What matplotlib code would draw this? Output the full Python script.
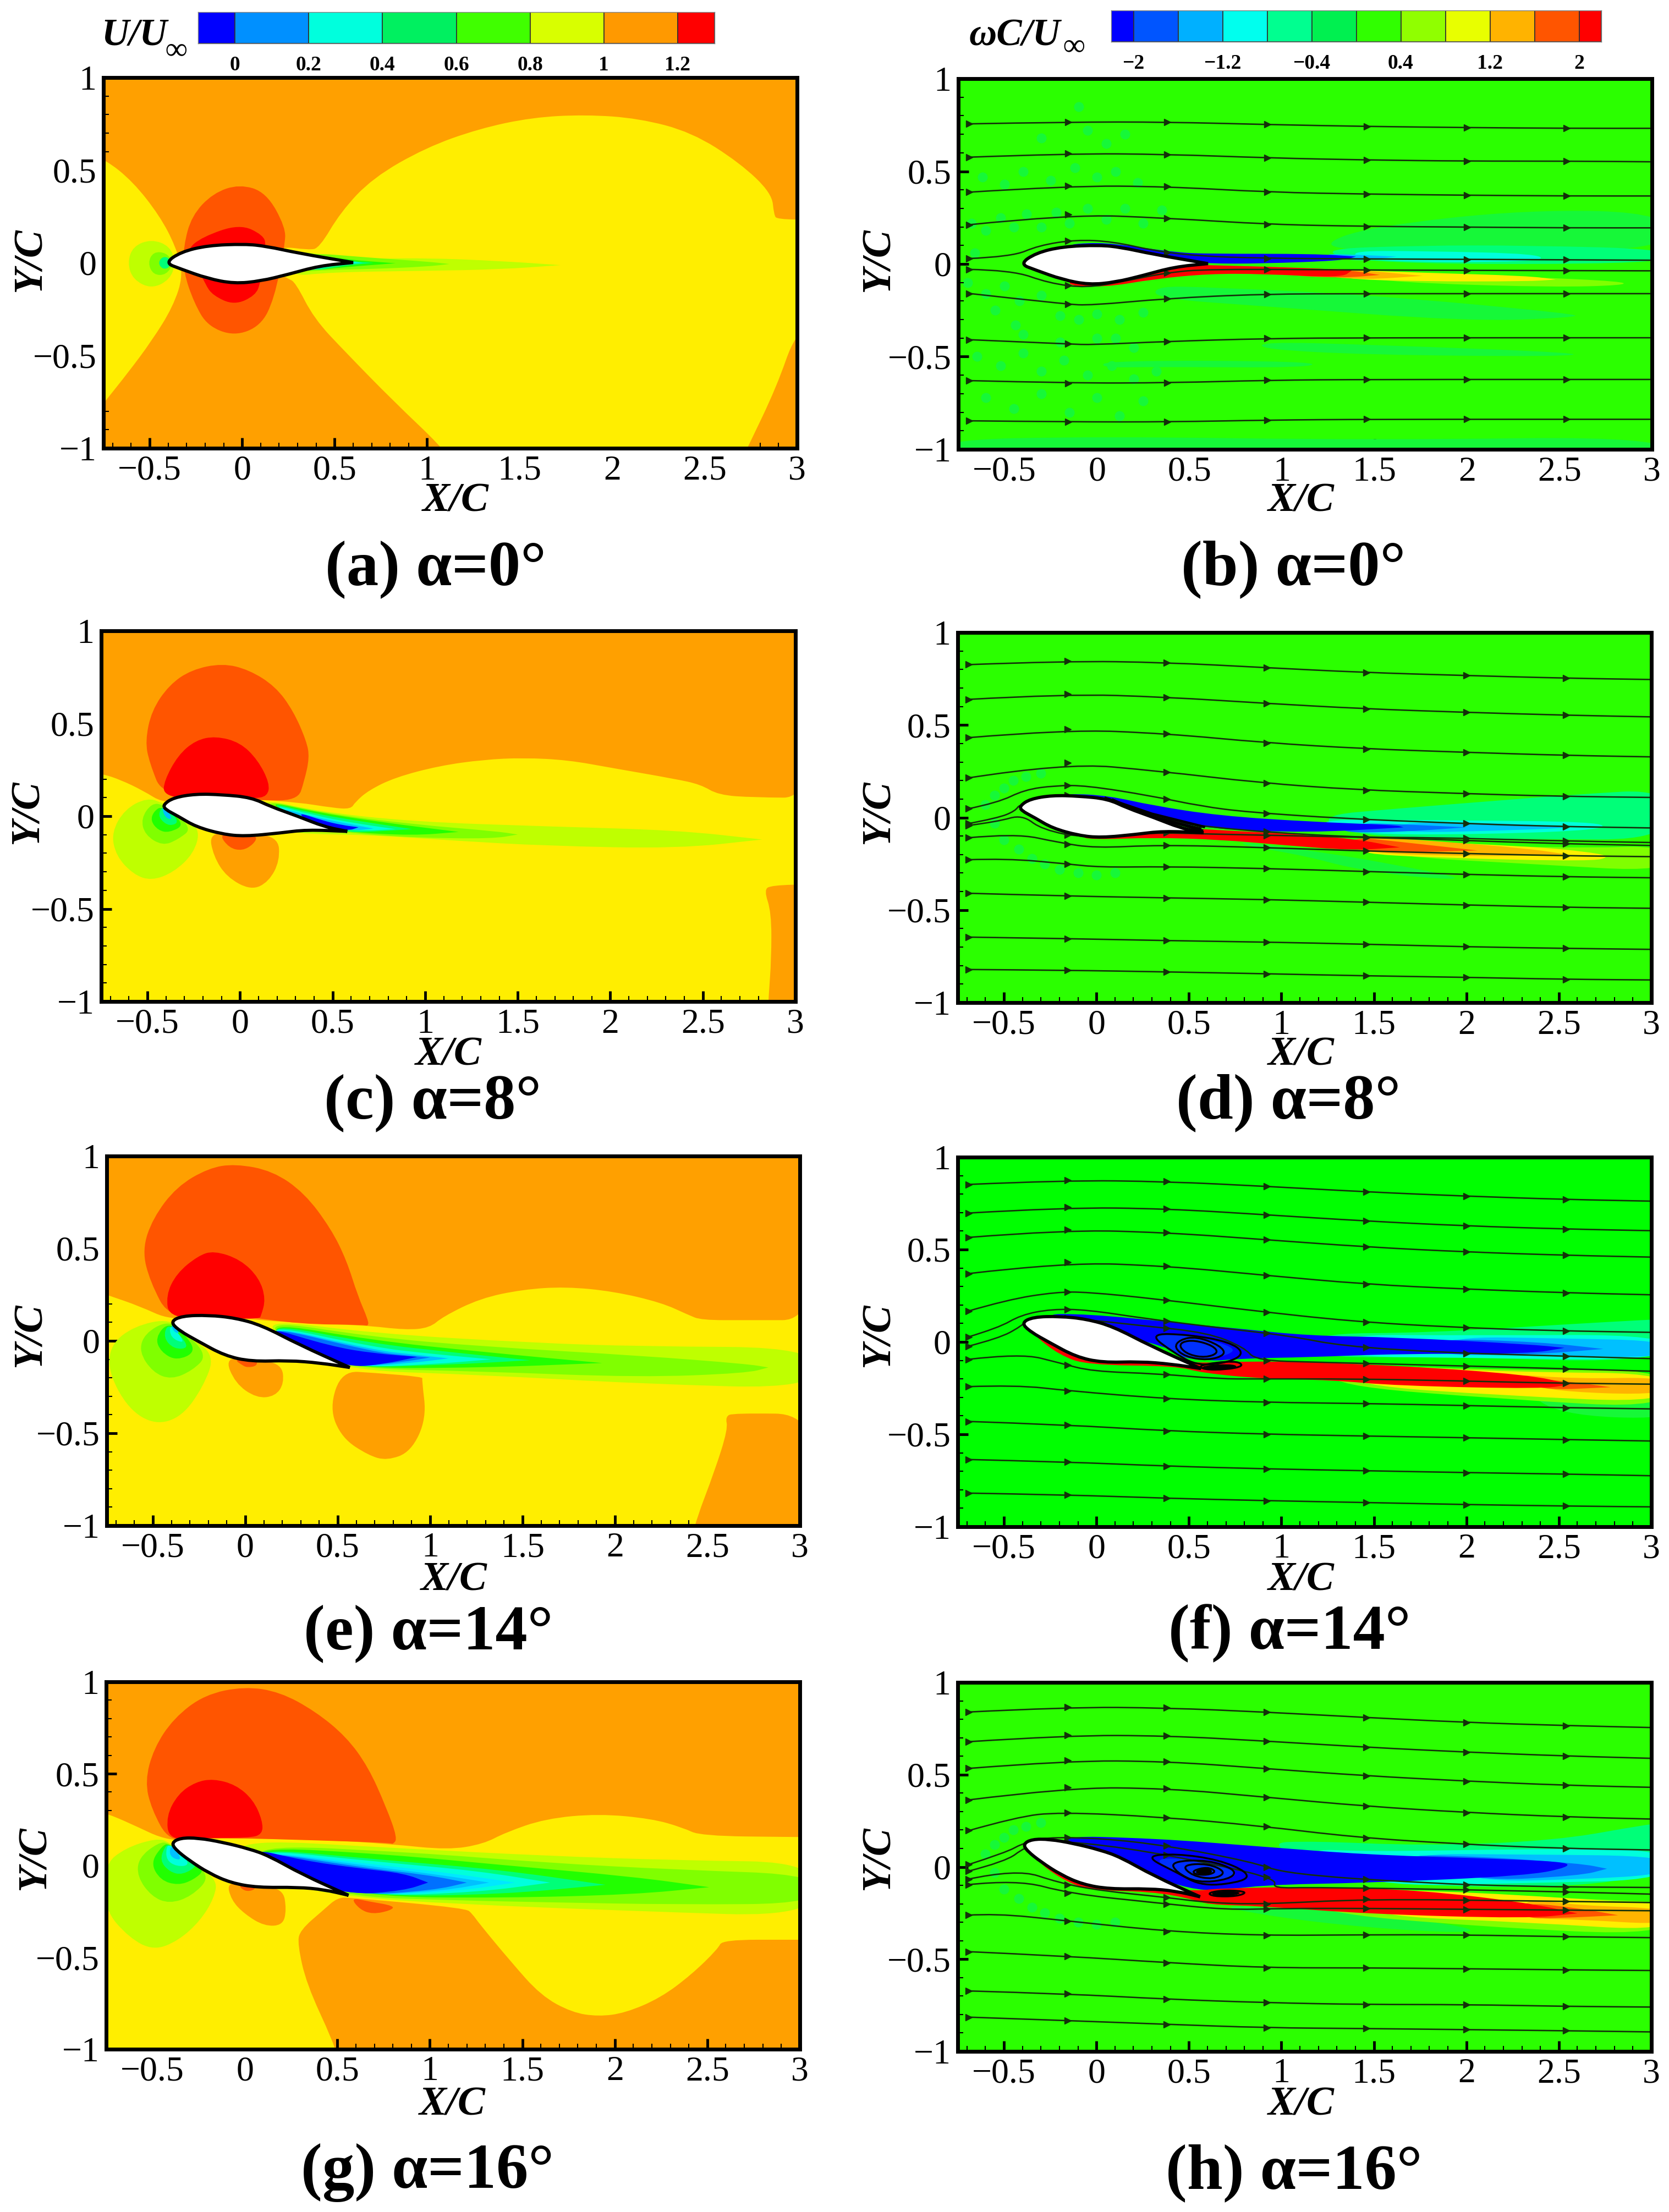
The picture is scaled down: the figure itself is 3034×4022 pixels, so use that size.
#翼まわりの流速と渦度のコンター図 (8 panels)
import numpy as np
import matplotlib
matplotlib.use('Agg')
import matplotlib.pyplot as plt
from matplotlib.path import Path
from matplotlib.patches import PathPatch

plt.rcParams['font.family'] = ['Liberation Serif', 'DejaVu Serif', 'DejaVu Sans']

W, H = 3034, 4022

# colours of the contour levels
BL, B2, B3, CY, TL, GR, LG, YG = '#0000ff', '#0070ff', '#00c0ff', '#00ffdc', '#00ff78', '#22ff00', '#80ff00', '#bfff00'
YE, OR, DO, RD = '#ffee00', '#ffa000', '#ff5500', '#ff0000'
AM, LB, BG, BGF = '#ffb400', '#16f838', '#2bff00', '#00ff00'

u_levels = [-0.1, 0, 0.2, 0.4, 0.6, 0.8, 1, 1.2, 1.3]
u_colors = ['#0000ff', '#0090ff', '#00ffdd', '#00f060', '#40ff00', '#d8ff00', '#ff9900', '#ff0000']
u_ticks = [0, 0.2, 0.4, 0.6, 0.8, 1, 1.2]
u_ticklabels = ['0', '0.2', '0.4', '0.6', '0.8', '1', '1.2']
w_levels = [-2.2, -2, -1.6, -1.2, -0.8, -0.4, 0, 0.4, 0.8, 1.2, 1.6, 2, 2.2]
w_colors = ['#0000ff', '#0055ff', '#00b0ff', '#00ffee', '#00ff90', '#00f050', '#30ff00', '#90ff00', '#e8ff00', '#ffb300', '#ff5500', '#ff0000']
w_ticks = [-2, -1.2, -0.4, 0.4, 1.2, 2]
w_ticklabels = ['\u22122', '\u22121.2', '\u22120.4', '0.4', '1.2', '2']

x_ticks = [-0.5, 0, 0.5, 1, 1.5, 2, 2.5, 3]
x_labels = ['\u22120.5', '0', '0.5', '1', '1.5', '2', '2.5', '3']
y_ticks = [-1, -0.5, 0, 0.5, 1]
y_labels = ['\u22121', '\u22120.5', '0', '0.5', '1']

# airfoil outlines, one for each angle
foil_0 = [(-.417, 0), (-.331, .059), (-.187, .094), (.014, .102), (.13, .09), (.302, .053), (.6, .002), (.6, .002), (.417, -.016), (.245, -.063), (.1, -.098), (-.043, -.112), (-.187, -.084), (-.331, -.033)]
foil_8 = [(-.414, .063), (-.359, .1), (-.239, .12), (-.096, .116), (.06, .101), (.167, .051), (.311, 0), (.455, -.057), (.579, -.082), (.579, -.082), (.359, -.073), (.215, -.091), (.024, -.109), (-.096, -.097), (-.239, -.057), (-.335, 0), (-.407, .038)]
foil_14 = [(-.406, .103), (-.343, .135), (-.199, .139), (-.055, .124), (.089, .084), (.291, -.021), (.565, -.144), (.565, -.144), (.406, -.12), (.233, -.106), (.032, -.112), (-.112, -.08), (-.256, -.002), (-.357, .055)]
foil_16 = [(-.397, .123), (-.349, .15), (-.254, .15), (-.122, .127), (.022, .091), (.129, .053), (.309, -.048), (.56, -.162), (.56, -.162), (.428, -.131), (.285, -.118), (.069, -.12), (-.074, -.095), (-.194, -.042), (-.301, .028), (-.373, .085)]

# (a) U/Uinf, alpha=0
a_ye_left = [(-.9, .62), (-.742, .56), (-.59, .438), (-.446, .254), (-.36, .09), (-.317, -.063), (-.374, -.237), (-.489, -.421), (-.619, -.595), (-.742, -.748), (-.9, -.95)]
a_ye_right = [(.417, .08), (.532, .274), (.705, .458), (.993, .622), (1.28, .724), (1.568, .785), (1.856, .8), (2.144, .78), (2.43, .705), (2.69, .54), (2.863, .376), (2.875, .26), (2.892, .235), (3.1, .233), (3.1, -.35), (2.99, -.38), (2.89, -.667), (2.734, -.994), (2.68, -1.1), (2.68, -1.1), (1.15, -1.1), (1.15, -1.1), (1.08, -.994), (.82, -.748), (.56, -.483), (.388, -.3), (.288, -.104), (.245, -.084), (.1, 0), (.2, .09), (.36, .07)]
a_do = [(-.317, .09), (-.273, .254), (-.158, .376), (-.014, .425), (.13, .38), (.235, .192), (.23, .09), (.173, -.196), (.1, -.34), (-.043, -.395), (-.187, -.34), (-.259, -.217), (-.317, -.05)]
a_rd = [(-.3, .07), (-.216, .14), (-.014, .21), (.115, .15), (.13, .09), (.1, -.104), (.072, -.176), (-.043, -.228), (-.158, -.176), (-.2, -.115), (-.25, 0)]
a_le_yg = [(-.62, 0), (-.59, .09), (-.49, .128), (-.39, .09), (-.36, 0), (-.39, -.09), (-.49, -.14), (-.59, -.09)]
a_le_lg = [(-.51, 0), (-.48, .06), (-.41, .055), (-.37, 0), (-.41, -.065), (-.48, -.065)]
a_le_tl = [(-.455, 0), (-.43, .035), (-.39, .025), (-.39, -.025), (-.43, -.035)]
a_w_yg = [(.2, .08), (.6, .02), (.993, .027), (1.4, .01), (1.72, -.012), (1.72, -.012), (1.4, -.035), (.993, -.043), (.475, -.05), (.25, -.075)]
a_w_lg = [(.3, .06), (.705, .027), (1.0, .007), (1.12, -.006), (1.12, -.006), (1.0, -.02), (.705, -.033), (.475, -.037), (.3, -.05)]
a_w_gr = [(.35, .05), (.561, .018), (.83, -.002), (.83, -.002), (.561, -.022), (.35, -.045)]
a_w_tl = [(.35, .055), (.55, .012), (.71, 0), (.71, 0), (.55, -.015), (.35, -.05)]
a_w_cy = [(.3, .065), (.5, .02), (.65, 0), (.65, 0), (.5, -.012), (.3, -.055)]
a_fields = [(YE, a_ye_left), (YE, a_ye_right), (DO, a_do), (RD, a_rd), (YG, a_le_yg), (LG, a_le_lg), (TL, a_le_tl),
            (YG, a_w_yg), (LG, a_w_lg), (GR, a_w_gr), (TL, a_w_tl), (CY, a_w_cy)]

# (c) U/Uinf, alpha=8
c_or_top = [(-.9, .25), (-.742, .228), (-.646, .196), (-.526, .139), (-.414, .07), (-.3, .1), (.07, .09), (.311, .075), (.5, .045), (.598, .038), (.622, .076), (.694, .139), (.837, .209), (1.077, .272), (1.316, .305), (1.531, .315), (1.77, .303), (2.01, .26), (2.344, .202), (2.488, .171), (2.584, .114), (2.775, .101), (3.1, .099), (3.1, 1.1), (3.1, 1.1), (-.9, 1.1), (-.9, 1.1)]
c_or_low = [(2.83, -.398), (2.87, -.373), (3.1, -.367), (3.1, -1.1), (3.1, -1.1), (2.85, -1.1), (2.85, -1.1), (2.855, -.973), (2.87, -.77), (2.87, -.518)]
c_do = [(-.414, .1), (-.49, .29), (-.512, .405), (-.478, .569), (-.383, .708), (-.263, .79), (-.096, .825), (.048, .79), (.191, .7), (.287, .569), (.359, .405), (.375, .316), (.347, .19), (.311, .082), (.07, .088)]
c_rd = [(-.414, .114), (-.41, .19), (-.335, .329), (-.239, .41), (-.132, .432), (0, .398), (.096, .303), (.16, .177), (.148, .107), (.072, .095), (-.263, .088)]
c_low_or = [(-.167, -.088), (-.144, -.215), (-.072, -.329), (.06, -.4), (.155, -.354), (.215, -.24), (.205, -.107), (.0, -.09)]
c_low_do = [(-.115, -.095), (-.06, -.171), (.012, -.187), (.072, -.152), (.096, -.107), (0, -.09)]
c_le_yg = [(-.414, .07), (-.502, .1), (-.622, .038), (-.695, -.088), (-.67, -.215), (-.574, -.316), (-.478, -.348), (-.359, -.303), (-.251, -.202), (-.215, -.076), (-.3, 0)]
c_le_lg = [(-.414, .063), (-.478, .07), (-.535, -.013), (-.514, -.101), (-.419, -.16), (-.335, -.126), (-.255, -.063)]
c_le_gr = [(-.419, .057), (-.467, .025), (-.483, -.025), (-.443, -.076), (-.383, -.09), (-.295, -.044)]
c_le_tl = [(-.41, .06), (-.44, .02), (-.43, -.02), (-.38, -.055), (-.325, -.03)]
c_le_b3 = [(-.41, .06), (-.42, .03), (-.4, -.01), (-.365, -.02), (-.39, .03)]
c_w_yg = [(.096, .1), (.407, .027), (.933, -.03), (1.65, -.055), (2.368, -.076), (2.82, -.126), (2.82, -.126), (2.368, -.175), (1.65, -.16), (1.17, -.133), (.694, -.101), (.287, -.095), (.1, -.05)]
c_w_lg = [(.1, .095), (.455, .015), (.933, -.044), (1.388, -.082), (1.5, -.099), (1.5, -.099), (1.364, -.122), (.933, -.116), (.574, -.09), (.3, -.05)]
c_w_gr = [(.12, .085), (.407, .022), (.742, -.03), (1.18, -.085), (1.18, -.085), (.933, -.105), (.574, -.085), (.4, -.05)]
c_w_tl = [(.13, .08), (.4, .015), (.6, -.02), (.93, -.07), (.93, -.07), (.65, -.088), (.57, -.082), (.4, -.04)]
c_w_cy = [(.15, .07), (.4, .005), (.6, -.035), (.84, -.07), (.84, -.07), (.62, -.082), (.4, -.04)]
c_w_b3 = [(.2, .05), (.4, -.005), (.58, -.04), (.72, -.067), (.72, -.067), (.6, -.08), (.4, -.04)]
c_w_bl = [(.3, .025), (.45, -.025), (.55, -.048), (.64, -.06), (.64, -.06), (.58, -.08), (.4, -.05)]
c_fields = [(OR, c_or_top), (OR, c_or_low), (DO, c_do), (RD, c_rd), (OR, c_low_or), (DO, c_low_do),
            (YG, c_le_yg), (LG, c_le_lg), (GR, c_le_gr), (TL, c_le_tl), (B3, c_le_b3),
            (YG, c_w_yg), (LG, c_w_lg), (GR, c_w_gr), (TL, c_w_tl), (CY, c_w_cy), (B3, c_w_b3), (BL, c_w_bl)]

# (e) U/Uinf, alpha=14
e_or_top = [(-.9, .3), (-.738, .245), (-.573, .188), (-.406, .112), (-.2, .14), (.2, .1), (.637, .085), (.867, .059), (.997, .07), (1.069, .131), (1.271, .23), (1.501, .278), (1.732, .293), (1.991, .268), (2.251, .207), (2.395, .141), (2.467, .112), (2.712, .112), (3.1, .112), (3.1, 1.1), (3.1, 1.1), (-.9, 1.1), (-.9, 1.1)]
e_or_low = [(2.597, -.41), (2.64, -.391), (3.1, -.397), (3.1, -1.1), (3.1, -1.1), (2.41, -1.1), (2.41, -1.1), (2.438, -.97), (2.539, -.705), (2.611, -.477)]
e_do = [(-.406, .112), (-.516, .321), (-.558, .492), (-.501, .663), (-.372, .834), (-.199, .935), (-.055, .958), (.147, .92), (.32, .8), (.464, .606), (.548, .435), (.608, .245), (.665, .112), (.665, .08), (.637, .087), (.3, .09), (-.055, .14)]
e_rd = [(-.41, .12), (-.43, .245), (-.372, .365), (-.256, .46), (-.17, .488), (-.026, .44), (.075, .34), (.11, .226), (.085, .135), (.075, .12), (-.1, .12)]
e_low_or1 = [(-.112, -.087), (-.055, -.23), (.061, -.31), (.161, -.3), (.21, -.23), (.196, -.125), (.05, -.1)]
e_low_do1 = [(-.06, -.1), (-.02, -.13), (.01, -.145), (.065, -.135), (.06, -.1)]
e_low_or2 = [(.522, -.163), (.455, -.363), (.522, -.525), (.666, -.62), (.767, -.648), (.896, -.6), (.98, -.42), (.955, -.211), (.96, -.195), (.695, -.173)]
e_le_yg = [(-.406, .122), (-.602, .08), (-.73, -.021), (-.74, -.173), (-.631, -.37), (-.487, -.455), (-.343, -.41), (-.228, -.249), (-.165, -.078), (-.3, .02)]
e_le_lg = [(-.42, .11), (-.545, .04), (-.575, -.059), (-.501, -.17), (-.401, -.21), (-.285, -.16), (-.205, -.078), (-.33, .05)]
e_le_gr = [(-.42, .1), (-.487, .017), (-.458, -.059), (-.372, -.108), (-.265, -.059), (-.33, .04)]
e_le_tl = [(-.42, .095), (-.444, .017), (-.386, -.045), (-.305, -.04), (-.35, .03)]
e_le_cy = [(-.41, .09), (-.405, .017), (-.329, -.015), (-.36, .04)]
e_le_b3 = [(-.406, .097), (-.386, .046), (-.35, .04)]
e_w_yg = [(.06, .122), (.695, .04), (1.559, -.011), (2.135, -.03), (3.1, -.036), (3.1, -.26), (2.135, -.232), (1.271, -.184), (.565, -.16), (.3, -.05)]
e_w_lg = [(.08, .115), (.695, .02), (1.271, -.03), (2.135, -.08), (2.712, -.125), (2.83, -.144), (2.83, -.144), (2.712, -.175), (2.135, -.198), (1.271, -.165), (.565, -.15), (.3, -.05)]
e_w_gr = [(.09, .105), (.695, .002), (1.271, -.059), (1.93, -.12), (1.93, -.12), (1.271, -.146), (.565, -.148), (.3, -.05)]
e_w_tl = [(.09, .1), (.695, -.015), (1.1, -.06), (1.54, -.105), (1.54, -.105), (1.1, -.13), (.565, -.145), (.3, -.05)]
e_w_cy = [(.09, .095), (.695, -.035), (1.0, -.07), (1.33, -.1), (1.33, -.1), (1.0, -.128), (.565, -.145), (.3, -.05)]
e_w_b3 = [(.09, .09), (.695, -.05), (.92, -.075), (1.1, -.095), (1.1, -.095), (.9, -.12), (.565, -.144), (.3, -.05)]
e_w_b2 = [(.09, .088), (.695, -.06), (.88, -.08), (1.0, -.09), (1.0, -.09), (.85, -.115), (.565, -.144), (.3, -.05)]
e_w_bl = [(.089, .084), (.464, -.03), (.695, -.068), (.93, -.087), (.93, -.087), (.752, -.125), (.565, -.144), (.3, -.05)]
e_fields = [(OR, e_or_top), (OR, e_or_low), (DO, e_do), (RD, e_rd), (OR, e_low_or1), (DO, e_low_do1), (OR, e_low_or2),
            (YG, e_le_yg), (LG, e_le_lg), (GR, e_le_gr), (TL, e_le_tl), (CY, e_le_cy), (B3, e_le_b3),
            (YG, e_w_yg), (LG, e_w_lg), (GR, e_w_gr), (TL, e_w_tl), (CY, e_w_cy), (B3, e_w_b3), (B2, e_w_b2), (BL, e_w_bl)]

# (g) U/Uinf, alpha=16
g_ye = [(-.9, .33), (-.744, .282), (-.624, .231), (-.409, .129), (-.2, .15), (.428, .14), (.787, .117), (1.098, .085), (1.289, .117), (1.409, .18), (1.624, .255), (1.911, .282), (2.2, .255), (2.368, .206), (2.464, .161), (2.97, .155), (3.1, .155), (3.1, .155), (3.1, -.404), (3.1, -.404), (2.964, -.404), (2.581, -.404), (2.557, -.454), (2.414, -.594), (2.246, -.721), (2.055, -.803), (1.911, -.822), (1.768, -.8), (1.6, -.708), (1.433, -.518), (1.266, -.315), (1.23, -.264), (1.194, -.232), (.572, -.175), (.5, -.175), (.428, -.239), (.297, -.353), (.285, -.429), (.333, -.645), (.476, -.956), (.52, -1.1), (.52, -1.1), (-.9, -1.1), (-.9, -1.1)]
g_do = [(-.409, .129), (-.505, .307), (-.54, .459), (-.493, .637), (-.385, .802), (-.218, .93), (-.002, .975), (.189, .945), (.38, .84), (.548, .701), (.667, .536), (.763, .32), (.825, .148), (.8, .115), (.787, .123), (.428, .136), (-.242, .155)]
g_rd = [(-.41, .14), (-.425, .269), (-.361, .39), (-.266, .455), (-.17, .472), (-.05, .44), (.045, .358), (.095, .244), (.095, .17), (.022, .15), (-.242, .15)]
g_low_or = [(-.098, -.086), (-.074, -.188), (-.002, -.264), (.105, -.33), (.205, -.325), (.225, -.239), (.205, -.125), (.05, -.11)]
g_low_do = [(-.038, -.105), (-.002, -.14), (.045, -.136), (.06, -.115)]
g_low_do2 = [(.572, -.175), (.62, -.239), (.691, -.265), (.787, -.245), (.81, -.22), (.667, -.195)]
g_le_yg = [(-.41, .13), (-.481, .148), (-.648, .095), (-.76, .003), (-.76, -.239), (-.624, -.395), (-.493, -.462), (-.361, -.41), (-.242, -.302), (-.165, -.175), (-.15, -.074), (-.3, .03)]
g_le_lg = [(-.41, .125), (-.469, .125), (-.575, .041), (-.582, -.061), (-.505, -.168), (-.409, -.208), (-.289, -.168), (-.185, -.061), (-.3, .03)]
g_le_gr = [(-.41, .12), (-.445, .11), (-.51, .015), (-.457, -.08), (-.361, -.108), (-.278, -.078), (-.215, -.023), (-.3, .04)]
g_le_tl = [(-.41, .115), (-.433, .104), (-.46, .028), (-.409, -.034), (-.337, -.052), (-.25, .003), (-.3, .05)]
g_le_cy = [(-.405, .115), (-.425, .1), (-.425, .03), (-.37, -.005), (-.3, .0), (-.33, .06)]
g_le_b3 = [(-.4, .115), (-.41, .05), (-.345, .025), (-.36, .07)]
g_w_yg = [(-.17, .15), (.907, .09), (1.624, .053), (2.342, .028), (3.1, .018), (3.1, -.28), (2.103, -.248), (1.146, -.21), (.56, -.172), (.2, -.1)]
g_w_lg = [(.0, .115), (.907, .072), (1.624, .015), (2.342, -.023), (3.1, -.05), (3.1, -.207), (2.342, -.213), (1.624, -.2), (1.146, -.19), (.56, -.17), (.2, -.05)]
g_w_gr = [(.0, .105), (.787, .06), (1.385, .003), (2.103, -.061), (2.51, -.118), (2.51, -.118), (2.103, -.158), (1.385, -.177), (.667, -.17), (.2, -.05)]
g_w_tl = [(.0, .1), (.75, .03), (1.385, -.023), (1.95, -.105), (1.95, -.105), (1.385, -.158), (.667, -.168), (.2, -.05)]
g_w_cy = [(.0, .095), (.72, .02), (1.266, -.03), (1.65, -.093), (1.65, -.093), (1.266, -.145), (.667, -.168), (.2, -.05)]
g_w_b3 = [(.0, .09), (.7, .005), (1.1, -.04), (1.46, -.093), (1.46, -.093), (1.15, -.14), (.62, -.166), (.2, -.05)]
g_w_c2 = [(.0, .09), (.68, -.005), (1.05, -.05), (1.32, -.093), (1.32, -.093), (1.08, -.137), (.6, -.165), (.2, -.05)]
g_w_b2 = [(.0, .09), (.66, -.015), (.98, -.05), (1.2, -.093), (1.2, -.093), (1.02, -.135), (.58, -.165), (.2, -.05)]
g_w_bl = [(.022, .098), (.309, .028), (.62, -.016), (.859, -.042), (.99, -.093), (.99, -.093), (.859, -.137), (.56, -.16), (.2, -.05)]
g_fields = [(YE, g_ye), (DO, g_do), (RD, g_rd), (OR, g_low_or), (DO, g_low_do), (DO, g_low_do2),
            (YG, g_le_yg), (LG, g_le_lg), (GR, g_le_gr), (TL, g_le_tl), (CY, g_le_cy), (B3, g_le_b3),
            (YG, g_w_yg), (LG, g_w_lg), (GR, g_w_gr), (TL, g_w_tl), (CY, g_w_cy), ('#00e8ff', g_w_b3), (B3, g_w_c2), (B2, g_w_b2), (BL, g_w_bl)]

# (b) vorticity, alpha=0
b_lb1 = [(1.2, .1), (1.466, .2), (2.328, .295), (3.1, .275), (3.1, .06), (1.466, .07)]
b_lb2 = [(.316, -.12), (.603, -.125), (1.466, -.166), (2.586, -.268), (2.586, -.289), (2.0, -.31), (.891, -.227), (.316, -.186)]
b_lb3 = [(.891, -.42), (1.466, -.435), (2.64, -.48), (2.5, -.5), (1.466, -.49), (.891, -.46)]
b_lb4 = [(.05, -.52), (1.178, -.525), (1.15, -.56), (.316, -.555), (.02, -.56)]
b_lb5 = [(-.9, -.95), (.0, -.93), (1.5, -.95), (3.1, -.93), (3.1, -1.1), (3.1, -1.1), (-.9, -1.1), (-.9, -1.1)]
b_tl = [(1.178, .08), (1.753, .1), (2.328, .1), (3.1, .08), (3.1, .0), (1.466, .0)]
b_cy = [(1.351, .07), (1.753, .07), (2.4, .055), (2.4, .01), (1.466, .012)]
b_b3 = [(1.2, .055), (1.4, .05), (1.62, .04), (1.62, .04), (1.4, .012)]
b_bl = [(-.201, .1), (0, .118), (.201, .095), (.431, .062), (.603, .055), (1.178, .055), (1.4, .04), (1.4, .04), (1.322, .018), (.891, .002), (.603, .002), (.316, .02), (0, .05)]
b_rd = [(.603, -.006), (1.034, -.018), (1.38, -.033), (1.38, -.033), (1.322, -.074), (.891, -.053), (.603, -.053), (.316, -.08), (.029, -.128), (-.201, -.11), (0, -.05), (.3, 0)]
b_do = [(1.0, -.02), (1.34, -.03), (1.53, -.059), (1.53, -.059), (1.322, -.076), (1.0, -.06)]
b_am = [(1.2, -.02), (1.45, -.035), (1.76, -.064), (1.76, -.064), (1.45, -.085), (1.2, -.065)]
b_ye = [(1.3, -.03), (1.753, -.047), (2.328, -.064), (2.48, -.084), (2.48, -.084), (2.328, -.094), (1.753, -.094), (1.3, -.08)]
b_lg = [(1.5, -.04), (2.328, -.07), (2.845, -.094), (2.85, -.115), (2.471, -.125), (1.753, -.105), (1.4, -.075)]
b_fields = [(LB, b_lb1), (LB, b_lb2), (LB, b_lb3), (LB, b_lb4), (LB, b_lb5),
            (TL, b_tl), (CY, b_cy), (B3, b_b3), (BL, b_bl), (LG, b_lg), (YE, b_ye), (AM, b_am), (DO, b_do), (RD, b_rd)]
# blotches of the next level left of the foil
b_speck_x = [-.68, -.6, -.52, -.45, -.38, -.3, -.22, -.15, -.05, .05, .15, .25, .35, -.62, -.5, -.4, -.25, -.12, 0, .1, .22,
             -.7, -.6, -.5, -.55, -.42, -.3, -.2, -.1, 0, .12, .25, -.65, -.52, -.4, -.3, -.18, -.05, .08, .2, .32,
             -.6, -.45, -.3, -.15, 0, .12, .25, -.3, -.05, .05, .15, -.1, .1, -.4, -.2, .0, .2, -.66, -.44]
b_speck_y = [.22, .18, .25, .2, .27, .2, .28, .22, .3, .24, .3, .22, .29, .47, .43, .5, .45, .52, .47, .5, .44,
             -.1, -.16, -.12, -.25, -.2, -.17, -.28, -.3, -.27, -.3, -.26, -.5, -.55, -.48, -.58, -.52, -.6, -.55, -.62, -.58,
             -.72, -.78, -.7, -.8, -.72, -.82, -.74, .68, .72, .65, .7, .85, -.4, -.38, -.42, -.4, -.45, .06, -.33]
d_speck_x = [-.6, -.55, -.5, -.45, -.38, -.3, -.55, -.5, -.42, -.35, -.28, -.2, -.1, 0, .1]
d_speck_y = [.07, .12, .16, .2, .22, .24, -.03, -.12, -.17, -.22, -.25, -.28, -.3, -.31, -.3]

# (d) vorticity, alpha=8
d_tl = [(1.189, .01), (1.62, .048), (2.098, .086), (2.576, .124), (3.1, .155), (3.1, -.12), (2.337, -.117), (1.38, -.104)]
d_cy = [(1.141, -.009), (1.859, -.015), (2.72, -.022), (2.75, -.066), (2.098, -.091), (1.38, -.091)]
d_b3 = [(1.62, -.022), (2.337, -.034), (2.54, -.055), (2.54, -.055), (2.337, -.066), (1.62, -.085)]
d_b2 = [(1.4, -.03), (1.62, -.035), (2.0, -.053), (2.0, -.053), (1.62, -.08), (1.3, -.08)]
d_bl = [(-.3, .105), (-.151, .13), (.065, .118), (.304, .065), (.663, .01), (1.141, -.022), (1.62, -.041), (1.66, -.053), (1.66, -.053), (1.141, -.083), (.591, -.06), (.3, 0)]
d_lb = [(.782, -.129), (1.26, -.193), (1.62, -.256), (2.02, -.335), (1.74, -.325), (1.38, -.275), (1.141, -.21), (.8, -.15)]
d_lg = [(1.26, -.125), (2.576, -.168), (3.1, -.15), (3.1, -.295), (2.337, -.25), (1.62, -.212)]
d_ye = [(1.5, -.12), (2.337, -.155), (2.672, -.187), (2.78, -.212), (2.672, -.237), (1.859, -.218), (1.38, -.193)]
d_am = [(1.38, -.098), (1.859, -.129), (2.337, -.168), (2.54, -.199), (2.54, -.199), (2.098, -.212), (1.38, -.19)]
d_do = [(1.38, -.104), (1.62, -.129), (2.06, -.178), (2.06, -.178), (1.62, -.19), (1.38, -.178)]
d_rd = [(.579, -.063), (1.333, -.104), (1.64, -.161), (1.64, -.161), (1.38, -.178), (1.022, -.15), (.663, -.119), (.304, -.108), (-.02, -.12), (-.1, -.1), (.3, -.05)]
d_fields = [(LB, d_lb), (TL, d_tl), (CY, d_cy), (B3, d_b3), (B2, d_b2), (BL, d_bl), (LG, d_lg), (YE, d_ye), (AM, d_am), (DO, d_do), (RD, d_rd)]

# (f) vorticity, alpha=14
f_tl = [(1.146, .045), (1.8, .05), (2.533, .095), (2.98, .12), (3.1, .125), (3.1, -.115), (1.864, -.08), (1.146, -.085)]
f_cy = [(1.3, .04), (2.0, .035), (3.1, .04), (3.1, -.1), (2.0, -.085), (1.3, -.08)]
f_b3 = [(1.9, .028), (2.5, .02), (3.1, .006), (3.1, -.085), (2.5, -.075), (1.9, -.07)]
f_b2 = [(1.8, .02), (2.4, .0), (2.74, -.038), (2.74, -.038), (2.342, -.07), (1.8, -.07)]
f_bl = [(-.337, .15), (-.05, .152), (.428, .105), (.787, .07), (1.146, .034), (1.624, .025), (2.342, -.013), (2.53, -.032), (2.53, -.032), (2.342, -.064), (1.624, -.064), (1.146, -.083), (.787, -.089), (.572, -.108), (.3, 0)]
f_b4 = [(.28, .05), (.55, .03), (.75, -.03), (.72, -.07), (.55, -.105), (.4, -.06)]
f_lb = [(2.3, -.25), (2.98, -.31), (3.1, -.32), (3.1, -.42), (2.5, -.395)]
f_lg = [(1.266, -.12), (2.342, -.155), (3.1, -.15), (3.1, -.36), (2.2, -.31), (1.266, -.235)]
f_ye = [(1.3, -.125), (2.342, -.165), (3.1, -.17), (3.1, -.33), (2.2, -.29), (1.4, -.235)]
f_am = [(2.2, -.17), (2.581, -.2), (3.1, -.19), (3.1, -.29), (2.4, -.265)]
f_do = [(2.2, -.18), (2.6, -.22), (2.78, -.245), (2.78, -.245), (2.4, -.262)]
f_rd = [(.572, -.115), (.907, -.102), (1.624, -.127), (2.342, -.178), (2.56, -.229), (2.56, -.229), (2.414, -.254), (1.624, -.237), (1.266, -.206), (.907, -.2), (.572, -.168), (.43, -.13), (-.05, -.125), (-.2, -.07), (-.33, .03), (-.3, .02), (.0, -.08), (.4, -.1)]
f_fields = [(TL, f_tl), (CY, f_cy), (B3, f_b3), (B2, f_b2), (BL, f_bl), ('#0030ff', f_b4), (LB, f_lb), (LG, f_lg), (YE, f_ye), (AM, f_am), (DO, f_do), (RD, f_rd)]

# (h) vorticity, alpha=16
h_tl = [(.891, .13), (1.178, .14), (1.753, .115), (2.471, .14), (2.989, .233), (3.1, .24), (3.1, -.1), (1.466, -.115)]
h_cy = [(1.1, .1), (1.466, .082), (2.328, .097), (3.1, .097), (3.1, -.07), (2.328, -.087), (1.466, -.107)]
h_b3 = [(1.6, .07), (2.328, .068), (3.1, .058), (3.1, -.039), (2.615, -.068), (2.04, -.08)]
h_b2 = [(1.6, .065), (2.04, .058), (2.615, .019), (2.76, -.01), (2.76, -.01), (2.615, -.048), (2.04, -.078)]
h_bl = [(-.287, .17), (.316, .155), (.891, .11), (1.466, .066), (2.04, .048), (2.529, .029), (2.56, 0), (2.328, -.048), (1.466, -.087), (.891, -.097), (.546, -.145), (.172, .01)]
h_b4 = [(.3, .05), (.55, .04), (.78, -.03), (.7, -.07), (.56, -.09), (.42, -.03)]
h_lb = [(.603, -.2), (1.466, -.25), (2.04, -.33), (2.0, -.36), (1.466, -.33), (.95, -.27)]
h_lg = [(1.0, -.1), (1.753, -.13), (2.989, -.19), (3.1, -.19), (3.1, -.375), (2.04, -.322), (1.178, -.245)]
h_ye = [(1.3, -.12), (2.04, -.136), (2.989, -.2), (3.1, -.2), (3.1, -.35), (2.328, -.3), (1.466, -.265)]
h_am = [(2.3, -.17), (2.615, -.21), (3.1, -.225), (3.1, -.315), (2.615, -.285), (2.328, -.28)]
h_do = [(2.3, -.19), (2.615, -.225), (2.82, -.262), (2.82, -.262), (2.5, -.278), (2.3, -.278)]
h_rd = [(.546, -.13), (.661, -.116), (1.178, -.107), (1.753, -.126), (2.328, -.194), (2.6, -.252), (2.6, -.252), (2.328, -.28), (1.466, -.255), (.891, -.212), (.603, -.205), (.5, -.17), (.3, -.135), (-.05, -.125), (-.2, -.06), (-.33, .04), (-.28, .03), (-.05, -.11), (.3, -.12)]
h_fields = [(LB, h_lb), (TL, h_tl), (CY, h_cy), (B3, h_b3), (B2, h_b2), (BL, h_bl), ('#0030ff', h_b4), (LG, h_lg), (YE, h_ye), (AM, h_am), (DO, h_do), (RD, h_rd)]

# streamlines
xs_b = [-.7, -.144, .374, .934, 1.466, 1.997, 2.543, 3.05]
b_lines = [
    (xs_b, [.756, .766, .766, .752, .742, .736, .732, .732]),
    (xs_b, [.576, .596, .592, .572, .561, .555, .555, .551]),
    (xs_b, [.387, .422, .418, .387, .377, .371, .367, .367]),
    (xs_b, [.211, .268, .248, .213, .203, .199, .195, .195]),
    ([-.7, -.46, -.316, -.115, .086, .316, .546, .89, 1.466, 2.04, 3.05], [.029, .039, .1, .131, .121, .07, .043, .031, .027, .025, .02]),
    ([-.7, -.46, -.259, -.057, .144, .374, .603, 1.466, 3.05], [-.029, -.033, -.104, -.129, -.094, -.047, -.027, -.033, -.037]),
    ([-.7, -.172, -.029, .374, .89, 1.466, 3.05], [-.158, -.217, -.223, -.186, -.162, -.16, -.16]),
    ([-.7, -.144, -.029, .374, .914, 1.466, 3.05], [-.408, -.432, -.436, -.418, -.402, -.398, -.398]),
    ([-.7, -.144, .4, .934, 1.466, 3.05], [-.629, -.643, -.641, -.627, -.623, -.623]),
    ([-.7, -.144, .4, .934, 1.466, 3.05], [-.846, -.852, -.852, -.842, -.838, -.838]),
]
xs_d = [-.7, -.163, .376, .914, 1.44, 1.978, 2.529, 3.05]
d_lines = [
    (xs_d, [.826, .846, .838, .81, .784, .768, .753, .745]),
    (xs_d, [.638, .668, .651, .617, .588, .569, .553, .543]),
    (xs_d, [.431, .476, .454, .404, .372, .353, .336, .327]),
    ([-.7, -.17, .34, .88, 1.4, 1.94, 2.48, 3.05], [.213, .296, .251, .188, .15, .131, .115, .108]),
    ([-.7, -.533, -.39, -.222, -.055, .292, .567, .818, 1.344, 1.883, 2.421, 3.05], [.046, .08, .15, .173, .173, .118, .061, .029, -.006, -.028, -.047, -.057]),
    ([-.7, -.533, -.438, -.414, -.175, .041, .304, .567, 1.356, 1.835, 2.361, 3.05], [-.034, -.003, .036, .074, .122, .108, .01, -.053, -.107, -.108, -.123, -.136]),
    ([-.7, -.533, -.402, -.294, -.055, .304, .591, 1.62, 2.433, 3.05], [-.044, -.022, .016, -.066, -.112, -.081, -.089, -.11, -.14, -.152]),
    ([-.7, -.438, -.199, -.007, .34, .878, 1.416, 1.943, 2.493, 3.05], [-.11, -.085, -.136, -.165, -.148, -.161, -.18, -.193, -.206, -.212]),
    ([-.7, -.486, -.163, .017, .376, .902, 1.44, 1.99, 2.529, 3.05], [-.228, -.221, -.25, -.269, -.265, -.275, -.291, -.307, -.32, -.326]),
    (xs_d, [-.409, -.424, -.434, -.443, -.457, -.472, -.485, -.491]),
    (xs_d, [-.646, -.654, -.665, -.673, -.684, -.698, -.707, -.713]),
    (xs_d, [-.821, -.825, -.834, -.844, -.855, -.863, -.874, -.878]),
]
xs_f = [-.7, -.172, .38, .919, 1.457, 1.995, 2.533, 3.05]
f_lines = [
    (xs_f, [.852, .875, .868, .842, .812, .789, .771, .761]),
    (xs_f, [.697, .728, .721, .688, .654, .628, .611, .601]),
    (xs_f, [.565, .607, .592, .553, .514, .487, .469, .458]),
    (xs_f, [.369, .431, .411, .36, .312, .286, .266, .254]),
    ([-.7, -.481, -.218, -.05, .321, .847, 1.373, 1.911, 2.45, 3.05], [.165, .229, .27, .27, .233, .169, .112, .08, .061, .051]),
    ([-.7, -.529, -.409, -.242, -.05, .261, .667, 1.05, 1.325, 1.864, 2.402, 3.05], [.025, .076, .146, .178, .174, .127, .076, .032, -.022, -.057, -.073, -.092]),
    ([-.7, -.529, -.409, -.349, -.05, .237, .6, .8, .86, 1.2, 2.0, 3.05], [-.025, .019, .083, .14, .121, .089, .051, -.03, -.1, -.11, -.13, -.16]),
    ([-.7, -.409, -.194, -.026, .333, .667, .859, 1.397, 1.935, 2.474, 3.05], [-.095, -.061, -.115, -.159, -.172, -.2, -.2, -.2, -.21, -.223, -.229]),
    ([-.7, -.433, -.146, .38, .907, 1.445, 1.995, 2.533, 3.05], [-.242, -.233, -.265, -.308, -.327, -.333, -.344, -.356, -.363]),
    ([-.7, -.172, .37, .907, 1.445, 1.98, 2.52, 3.05], [-.43, -.448, -.481, -.499, -.509, -.518, -.528, -.537]),
    (xs_f, [-.636, -.649, -.672, -.687, -.697, -.707, -.715, -.725]),
    (xs_f, [-.818, -.827, -.846, -.859, -.869, -.88, -.888, -.893]),
]
xs_h = [-.7, -.158, .379, .914, 1.451, 1.997, 2.534, 3.05]
h_lines = [
    (xs_h, [.839, .866, .862, .839, .81, .783, .766, .754]),
    (xs_h, [.678, .713, .711, .682, .649, .622, .601, .587]),
    (xs_h, [.533, .576, .572, .533, .494, .465, .442, .43]),
    (xs_h, [.362, .43, .426, .378, .329, .295, .271, .258]),
    ([-.7, -.431, -.201, .345, .876, 1.394, 1.925, 2.471, 3.05], [.194, .271, .297, .271, .223, .161, .126, .101, .091]),
    ([-.7, -.489, -.402, -.287, .029, .374, .833, 1.034, 1.753, 2.328, 3.05], [.01, .078, .126, .161, .155, .116, .029, -.039, -.087, -.107, -.112]),
    ([-.7, -.489, -.388, -.259, .144, .661, .977, .95, 1.178, 2.328, 3.05], [-.025, .029, .107, .145, .107, .01, -.068, -.116, -.11, -.13, -.149]),
    ([-.7, -.431, -.201, .029, .374, .603, .891, 1.466, 2.328, 3.05], [-.068, -.01, -.087, -.13, -.165, -.194, -.203, -.174, -.184, -.194]),
    ([-.7, -.431, -.144, .316, .7, 1.0, 1.5, 2.0, 3.05], [-.097, -.068, -.145, -.194, -.233, -.225, -.225, -.23, -.238]),
    ([-.7, -.546, -.172, .374, .891, 1.437, 1.968, 2.5, 3.05], [-.262, -.252, -.291, -.349, -.372, -.368, -.368, -.378, -.384]),
    (xs_h, [-.459, -.484, -.519, -.547, -.547, -.552, -.558, -.562]),
    (xs_h, [-.672, -.688, -.717, -.736, -.746, -.746, -.756, -.76]),
    (xs_h, [-.814, -.833, -.853, -.872, -.876, -.882, -.888, -.895]),
]
arrow_x = [-.69, -.155, .38, .92, 1.46, 2.0, 2.54]

# black loops of the separated flow behind the foil
d_wake_lines = [[(.09, .095), (.3, 0), (.56, -.06)], [(.05, .105), (.3, .02), (.58, -.05)], [(.2, .03), (.4, -.02), (.57, -.07)]]
f_loops = [
    [(.46, .0), (.53, .01), (.63, -.02), (.66, -.06), (.59, -.085), (.5, -.07), (.45, -.03)],
    [(.45, .012), (.54, .03), (.67, -.02), (.7, -.07), (.6, -.1), (.48, -.08), (.42, -.03)],
    [(.28, .045), (.5, .04), (.72, 0), (.8, -.06), (.72, -.11), (.55, -.13), (.42, -.06)],
    [(.55, -.125), (.75, -.1), (.8, -.13), (.7, -.15), (.58, -.15)],
    [(.57, -.135), (.7, -.125), (.76, -.135), (.68, -.142), (.6, -.142)],
]
h_loops = [
    [(.259, .058), (.431, .072), (.661, .039), (.819, -.029), (.805, -.078), (.575, -.107), (.431, -.029)],
    [(.402, .029), (.603, .039), (.761, -.019), (.718, -.068), (.546, -.087), (.431, -.029)],
    [(.46, .01), (.603, .019), (.704, -.029), (.632, -.068), (.517, -.048)],
    [(.52, -.02), (.6, .0), (.65, -.025), (.6, -.045), (.53, -.04)],
    [(.6, -.14), (.7, -.125), (.82, -.135), (.76, -.16), (.63, -.16)],
    [(.62, -.145), (.7, -.135), (.78, -.14), (.72, -.152), (.65, -.152)],
]
h_blobs = [[(.54, -.02), (.6, -.005), (.63, -.025), (.6, -.04), (.54, -.035)], [(.63, -.15), (.72, -.135), (.79, -.14), (.72, -.157), (.65, -.157)]]
f_blobs = [[(.58, -.13), (.72, -.12), (.77, -.135), (.68, -.15), (.6, -.15)]]

# panel boxes in pixels: left, right, top, bottom
box_a, box_b = (188, 1449, 141, 815), (1742, 3003, 143, 817)
box_c, box_d = (184, 1446, 1147, 1821), (1741, 3002, 1150, 1823)
box_e, box_f = (194, 1454, 2102, 2774), (1741, 3002, 2104, 2776)
box_g, box_h = (193, 1454, 3058, 3726), (1741, 3002, 3059, 3730)


def closed_curve(pts):
    p = np.array(pts, float)
    verts = [(p[-1] + p[0]) / 2]
    codes = [Path.MOVETO]
    for i in range(len(p)):
        verts += [p[i], (p[i] + p[(i + 1) % len(p)]) / 2]
        codes += [Path.CURVE3, Path.CURVE3]
    return Path(verts, codes)


def open_curve(xs, ys):
    p = np.column_stack([xs, ys]).astype(float)
    verts = [p[0]]
    codes = [Path.MOVETO]
    for i in range(1, len(p) - 1):
        verts += [p[i], (p[i] + p[i + 1]) / 2]
        codes += [Path.CURVE3, Path.CURVE3]
    verts.append(p[-1])
    codes.append(Path.LINETO)
    return Path(verts, codes)


def make_axes(box):
    l, r, t, b = box
    ax = fig.add_axes([l / W, 1 - b / H, (r - l) / W, (b - t) / H])
    ax.set_xlim(-0.75, 3)
    ax.set_ylim(-1, 1)
    ax.set_xticks(x_ticks)
    ax.set_xticklabels(x_labels, fontsize=46)
    ax.set_yticks(y_ticks)
    ax.set_yticklabels(y_labels, fontsize=46)
    ax.set_xticks(np.arange(-0.7, 3.01, 0.1), minor=True)
    ax.set_yticks(np.arange(-0.9, 1, 0.1), minor=True)
    ax.tick_params(which='major', direction='in', length=14, width=3.5, pad=9, zorder=20)
    ax.tick_params(which='minor', direction='in', length=7, width=1.5, zorder=20)
    for s in ax.spines.values():
        s.set_linewidth(5)
        s.set_zorder(30)
    return ax


def draw_fields(ax, back, fields, foil):
    ax.set_facecolor(back)
    for colour, pts in fields:
        ax.add_patch(PathPatch(closed_curve(pts), facecolor=colour, edgecolor='none', zorder=2))
    ax.add_patch(PathPatch(closed_curve(foil), facecolor='white', edgecolor='black', lw=4.2, zorder=6))


def draw_specks(ax, xs, ys):
    ax.plot(xs, ys, ls='none', marker='o', ms=13, mfc=LB, mec='none', zorder=1.5)


def draw_lines(ax, lines):
    for xs, ys in lines:
        ax.add_patch(PathPatch(open_curve(xs, ys), facecolor='none', edgecolor='#14300a', lw=1.9, zorder=4))
        ax.plot(arrow_x, np.interp(arrow_x, xs, ys), ls='none', marker='>', ms=9, mfc='#14300a', mec='#14300a', zorder=5)


def draw_loops(ax, loops, blobs=()):
    for pts in loops:
        ax.add_patch(PathPatch(closed_curve(pts), facecolor='none', edgecolor='black', lw=2.4, zorder=5))
    for pts in blobs:
        ax.add_patch(PathPatch(closed_curve(pts), facecolor='black', edgecolor='black', lw=1, zorder=5))


def put_labels(xl, yl, caption, cap_xy):
    fig.text(xl[0] / W, 1 - xl[1] / H, 'X/C', fontsize=54, style='italic', weight='bold', ha='center', va='center')
    fig.text(yl[0] / W, 1 - yl[1] / H, 'Y/C', fontsize=54, style='italic', weight='bold', ha='center', va='center', rotation=90)
    fig.text(cap_xy[0] / W, 1 - cap_xy[1] / H, caption, fontsize=84, weight='bold', ha='center', va='center')


def colorbar(box, levels, colors, ticks, labels):
    l, r, t, b = box
    ax = fig.add_axes([l / W, 1 - b / H, (r - l) / W, (b - t) / H])
    ax.bar(levels[:-1], 1, width=np.diff(levels), align='edge', color=colors, edgecolor='#303030', linewidth=1.2)
    ax.set_xlim(levels[0], levels[-1])
    ax.set_ylim(0, 1)
    ax.set_yticks([])
    ax.set_xticks(ticks)
    ax.set_xticklabels(labels, fontsize=27, weight='bold')
    ax.tick_params(length=0, pad=16)
    for s in ax.spines.values():
        s.set_linewidth(1)
        s.set_color('#808080')


fig = plt.figure(figsize=(W / 100, H / 100), dpi=100, facecolor='white')

ax = make_axes(box_a)
draw_fields(ax, OR, a_fields, foil_0)
ax = make_axes(box_c)
draw_fields(ax, YE, c_fields, foil_8)
ax = make_axes(box_e)
draw_fields(ax, YE, e_fields, foil_14)
ax = make_axes(box_g)
draw_fields(ax, OR, g_fields, foil_16)

ax = make_axes(box_b)
draw_specks(ax, b_speck_x, b_speck_y)
draw_fields(ax, BG, b_fields, foil_0)
draw_lines(ax, b_lines)
ax = make_axes(box_d)
draw_specks(ax, d_speck_x, d_speck_y)
draw_fields(ax, BG, d_fields, foil_8)
draw_lines(ax, d_lines)
for pts in d_wake_lines:
    ax.plot([q[0] for q in pts], [q[1] for q in pts], color='black', lw=3.5, zorder=5)
ax = make_axes(box_f)
draw_fields(ax, BGF, f_fields, foil_14)
draw_lines(ax, f_lines)
draw_loops(ax, f_loops, f_blobs)
ax = make_axes(box_h)
draw_specks(ax, d_speck_x, d_speck_y)
draw_fields(ax, BG, h_fields, foil_16)
draw_lines(ax, h_lines)
draw_loops(ax, h_loops, h_blobs)

put_labels((828, 912), (56, 473), '(a) \u03b1=0\u00b0', (792, 1035))
put_labels((2365, 912), (1598, 473), '(b) \u03b1=0\u00b0', (2351, 1035))
put_labels((815, 1918), (51, 1477), '(c) \u03b1=8\u00b0', (787, 2005))
put_labels((2365, 1918), (1598, 1477), '(d) \u03b1=8\u00b0', (2342, 2005))
put_labels((825, 2873), (56, 2428), '(e) \u03b1=14\u00b0', (779, 2970))
put_labels((2365, 2873), (1598, 2428), '(f) \u03b1=14\u00b0', (2344, 2970))
put_labels((822, 3828), (64, 3379), '(g) \u03b1=16\u00b0', (777, 3951))
put_labels((2365, 3828), (1598, 3379), '(h) \u03b1=16\u00b0', (2352, 3951))

colorbar((360, 1299, 22, 79), u_levels, u_colors, u_ticks, u_ticklabels)
colorbar((2020, 2911, 19, 76), w_levels, w_colors, w_ticks, w_ticklabels)
fig.text(184 / W, 1 - 65 / H, 'U/U', fontsize=50, style='italic', weight='bold', ha='left', va='center')
fig.text(300 / W, 1 - 92 / H, '\u221e', fontsize=40, weight='bold', ha='left', va='center')
fig.text(1762 / W, 1 - 65 / H, '\u03c9C/U', fontsize=50, style='italic', weight='bold', ha='left', va='center')
fig.text(1932 / W, 1 - 85 / H, '\u221e', fontsize=40, weight='bold', ha='left', va='center')

fig.savefig('out.png', dpi=100)
